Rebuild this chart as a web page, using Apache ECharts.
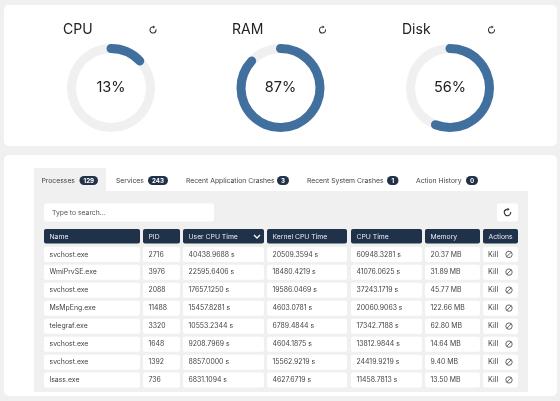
<!DOCTYPE html>
<html>
<head>
<meta charset="utf-8">
<style>
html,body{margin:0;padding:0;background:#f0f0f0}
#main{width:560px;height:401px}
</style>
<script src="https://cdn.jsdelivr.net/npm/echarts@6/dist/echarts.min.js"></script>
</head>
<body>
<div id="main"></div>
<script>
// gauges
let gaugeNames=['CPU','RAM','Disk']
let gaugeValues=[13,87,56]

// tabs
let tabNames=['Processes','Services','Recent Application Crashes','Recent System Crashes','Action History']
let tabCounts=['129','243','3','1','0']

// table
let columns=['Name','PID','User CPU Time','Kernel CPU Time','CPU Time','Memory','Actions']
let names=['svchost.exe','WmiPrvSE.exe','svchost.exe','MsMpEng.exe','telegraf.exe','svchost.exe','svchost.exe','lsass.exe']
let pids=['2716','3976','2088','11488','3320','1648','1392','736']
let userTimes=['40438.9688 s','22595.6406 s','17657.1250 s','15457.8281 s','10553.2344 s','9208.7969 s','8857.0000 s','6831.1094 s']
let kernelTimes=['20509.3594 s','18480.4219 s','19586.0469 s','4603.0781 s','6789.4844 s','4604.1875 s','15562.9219 s','4627.6719 s']
let cpuTimes=['60948.3281 s','41076.0625 s','37243.1719 s','20060.9063 s','17342.7188 s','13812.9844 s','24419.9219 s','11458.7813 s']
let memory=['20.37 MB','31.89 MB','45.77 MB','122.66 MB','62.80 MB','14.64 MB','9.40 MB','13.50 MB']

let textFont='Inter, "Open Sans", sans-serif'
let gaugeX=[111,280.5,450]
let refreshX=[153,322.5,491.5]
let titleX=[63,232,402]
let colX=[44,143,183,267,351,425,483]
let colW=[96,37,81,80,71,55,35]
let tabX=[41.5,116,186,307,416]
let badgeX=[79.5,148,277,387,466]
let badgeW=[18.5,20,12,11.5,12]
let rowY=[247,264.7,282.7,300.7,318.7,336.7,354.7,372.5]

let blue='#41709f'
let navy='#1f3249'
let g=[]

function rect(x,y,w,h,r,fill,z){
  g.push({type:'rect',z:z||1,shape:{x:x,y:y,width:w,height:h,r:r},style:{fill:fill}})
}
function text(x,y,t,size,color,align,weight){
  g.push({type:'text',z:5,x:x,y:y,style:{text:t,font:(weight||400)+' '+size+'px '+textFont,fill:color,textAlign:align||'left',textVerticalAlign:'middle'}})
}
// 刷新图标
function refresh(x,y,r,w){
  g.push({type:'arc',z:5,shape:{cx:x,cy:y,r:r,startAngle:-0.2,endAngle:-1.5,clockwise:true},style:{stroke:'#333',lineWidth:w,fill:null}})
  g.push({type:'polygon',z:5,shape:{points:[[x,y-r-1.6],[x,y-r+1.6],[x+2.2,y-r]]},style:{fill:'#333'}})
}
// 禁止图标
function ban(x,y){
  g.push({type:'circle',z:5,shape:{cx:x,cy:y,r:3.2},style:{stroke:'#444',lineWidth:0.8,fill:null}})
  g.push({type:'line',z:5,shape:{x1:x-2.2,y1:y+2.2,x2:x+2.2,y2:y-2.2},style:{stroke:'#444',lineWidth:0.8}})
}

// 面板
rect(4,5,553,141,5,'#fff')
rect(4,155,553,241,5,'#fff')
rect(34,191,494,201,0,'#f0f0f0')
rect(34,168,72,24,0,'#f0f0f0')

gaugeNames.forEach(function(name,i){
  text(titleX[i],29.5,name,14,'#222')
  refresh(refreshX[i],30,3,1.1)
})

tabNames.forEach(function(name,i){
  text(tabX[i],180.5,name,6.8,'#444')
  rect(badgeX[i],176,badgeW[i],9,4.5,navy,2)
  text(badgeX[i]+badgeW[i]/2,180.7,tabCounts[i],6.2,'#fff','center',700)
})

rect(44,203.5,170,18,2,'#fff',2)
text(52,212.5,'Type to search...',6.8,'#555')
rect(497,203.5,21,18,2,'#fff',2)
refresh(507.5,212.5,3.2,1.1)

columns.forEach(function(name,i){
  rect(colX[i],229,colW[i],14.5,2,navy,2)
  text(colX[i]+5.5,236.5,name,6.8,'#e8edf2')
})
g.push({type:'polyline',z:5,shape:{points:[[254,235],[257,238],[260,235]]},style:{stroke:'#fff',lineWidth:1.3,fill:null}})

let cols=[names,pids,userTimes,kernelTimes,cpuTimes,memory]
rowY.forEach(function(y,r){
  for(let c=0;c<7;c++){
    rect(colX[c],y,colW[c],15,2,'#fff',2)
  }
  cols.forEach(function(col,c){
    text(colX[c]+5.5,y+7.6,col[r],6.9,'#444')
  })
  text(488,y+7.6,'Kill',7.2,'#444')
  ban(509,y+7.4)
})

let series=gaugeValues.map(function(v,i){
  return {
    type:'gauge',
    z:10,
    center:[gaugeX[i],88],
    radius:44,
    startAngle:90,
    endAngle:-270,
    min:0,
    max:100,
    pointer:{show:false},
    progress:{show:true,roundCap:true,width:9,itemStyle:{color:blue}},
    axisLine:{lineStyle:{width:9,color:[[1,'#f0f0f0']]}},
    axisTick:{show:false},
    splitLine:{show:false},
    axisLabel:{show:false},
    anchor:{show:false},
    title:{show:false},
    detail:{
      valueAnimation:false,
      offsetCenter:[0,0],
      formatter:'{value}%',
      fontFamily:textFont,
      fontSize:14.5,
      fontWeight:400,
      color:'#222'
    },
    data:[{value:v,name:gaugeNames[i]}]
  }
})

let myChart=echarts.init(document.getElementById('main'))
myChart.setOption({
  animation:false,
  backgroundColor:'#f0f0f0',
  graphic:{elements:g},
  series:series
})
</script>
</body>
</html>
